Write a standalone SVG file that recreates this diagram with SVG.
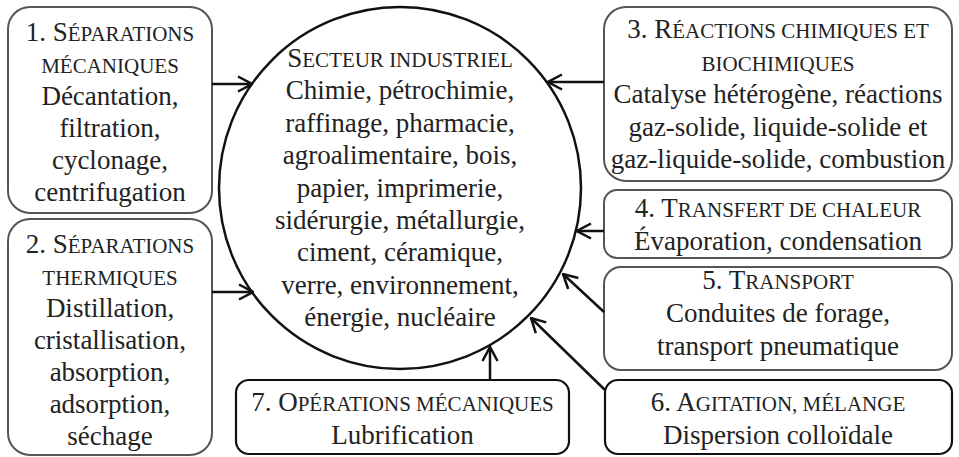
<svg xmlns="http://www.w3.org/2000/svg" width="959" height="457" viewBox="0 0 959 457">
<style>
text{font-family:"Liberation Serif","Times New Roman",serif;font-size:27px;fill:#222;text-anchor:middle}
.sc{font-size:21px}
.box{fill:#fff;stroke:#555;stroke-width:2}
.dark{fill:#fff;stroke:#111;stroke-width:2.2}
.circ{fill:#fff;stroke:#111;stroke-width:2.5}
.edge{stroke:#111;stroke-width:2.5;fill:none;marker-end:url(#arr)}
</style>
<defs>
<marker id="arr" markerUnits="userSpaceOnUse" viewBox="0 0 16 18" refX="15" refY="9" markerWidth="16" markerHeight="18" orient="auto">
<path d="M1,1.5 L15,9 L1,16.5" fill="none" stroke="#111" stroke-width="2.5"/>
</marker>
</defs>
<g id="center">
<circle class="circ" cx="400" cy="188" r="181"/>
<text x="400" y="67">S<tspan class="sc">ECTEUR INDUSTRIEL</tspan></text>
<text x="400" y="99.4">Chimie, pétrochimie,</text>
<text x="400" y="131.8">raffinage, pharmacie,</text>
<text x="400" y="164.2">agroalimentaire, bois,</text>
<text x="400" y="196.6">papier, imprimerie,</text>
<text x="400" y="229">sidérurgie, métallurgie,</text>
<text x="400" y="261.4">ciment, céramique,</text>
<text x="400" y="293.8">verre, environnement,</text>
<text x="400" y="326.2">énergie, nucléaire</text>
</g>
<g id="n1">
<rect class="box" x="8" y="7" width="204" height="206" rx="22"/>
<text x="110" y="41">1. S<tspan class="sc">ÉPARATIONS</tspan></text>
<text x="110" y="73" class="sc">MÉCANIQUES</text>
<text x="110" y="105">Décantation,</text>
<text x="110" y="137">filtration,</text>
<text x="110" y="169">cyclonage,</text>
<text x="110" y="201">centrifugation</text>
</g>
<g id="n2">
<rect class="box" x="8" y="219" width="204" height="236" rx="22"/>
<text x="110" y="253">2. S<tspan class="sc">ÉPARATIONS</tspan></text>
<text x="110" y="285" class="sc">THERMIQUES</text>
<text x="110" y="317">Distillation,</text>
<text x="110" y="349">cristallisation,</text>
<text x="110" y="381">absorption,</text>
<text x="110" y="413">adsorption,</text>
<text x="110" y="445">séchage</text>
</g>
<g id="n3">
<rect class="box" x="604" y="7" width="348" height="174" rx="22"/>
<text x="778" y="38">3. R<tspan class="sc">ÉACTIONS CHIMIQUES ET</tspan></text>
<text x="778" y="70.5" class="sc">BIOCHIMIQUES</text>
<text x="778" y="103">Catalyse hétérogène, réactions</text>
<text x="778" y="135.5">gaz-solide, liquide-solide et</text>
<text x="778" y="168">gaz-liquide-solide, combustion</text>
</g>
<g id="n4">
<rect class="box" x="604" y="190" width="348" height="68" rx="13"/>
<text x="778" y="216.5">4. T<tspan class="sc">RANSFERT DE CHALEUR</tspan></text>
<text x="778" y="249.5">Évaporation, condensation</text>
</g>
<g id="n5">
<rect class="box" x="604" y="267" width="348" height="103" rx="17"/>
<text x="778" y="288.5">5. T<tspan class="sc">RANSPORT</tspan></text>
<text x="778" y="321.5">Conduites de forage,</text>
<text x="778" y="354.5">transport pneumatique</text>
</g>
<g id="n6">
<rect class="dark" x="605" y="380" width="347" height="74" rx="13"/>
<text x="778" y="411">6. A<tspan class="sc">GITATION, MÉLANGE</tspan></text>
<text x="778" y="444">Dispersion colloïdale</text>
</g>
<g id="n7">
<rect class="dark" x="236" y="380" width="333" height="74" rx="13"/>
<text x="402.5" y="411">7. O<tspan class="sc">PÉRATIONS MÉCANIQUES</tspan></text>
<text x="402.5" y="444">Lubrification</text>
</g>
<g id="connectors">
<line class="edge" x1="212" y1="84" x2="252" y2="84"/>
<line class="edge" x1="212" y1="292" x2="253" y2="292"/>
<line class="edge" x1="604" y1="82" x2="548" y2="82"/>
<line class="edge" x1="604" y1="231" x2="577" y2="231"/>
<line class="edge" x1="604" y1="312" x2="563" y2="274"/>
<line class="edge" x1="605" y1="390" x2="531" y2="318"/>
<line class="edge" x1="490" y1="380" x2="490" y2="347"/>
</g>
</svg>
